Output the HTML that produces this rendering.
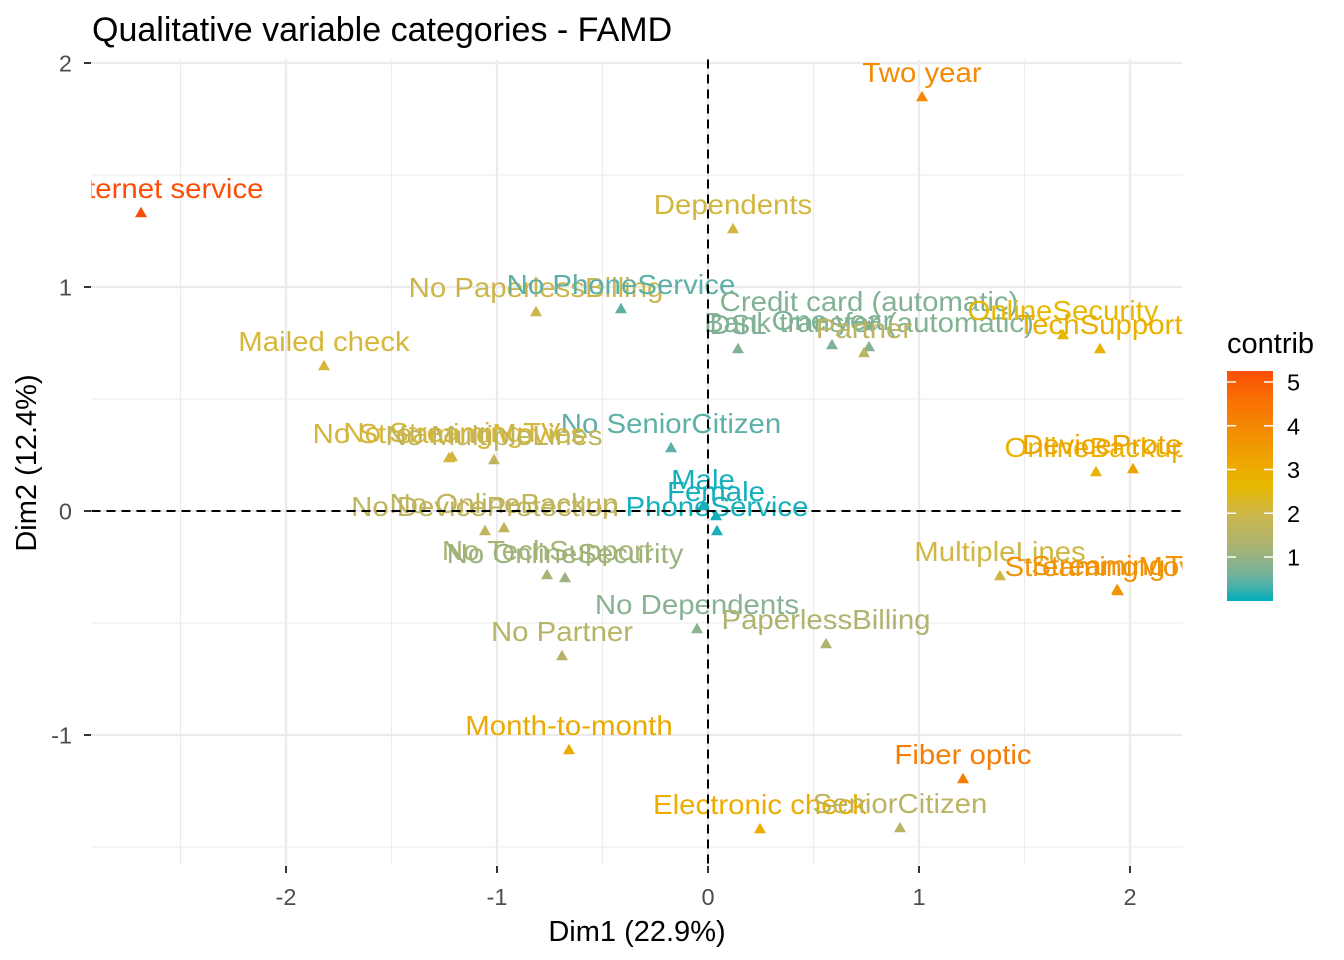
<!DOCTYPE html>
<html>
<head>
<meta charset="utf-8">
<style>
  html, body { margin: 0; padding: 0; background: #ffffff; }
  svg { display: block; }
  text { font-family: "Liberation Sans", Arial, sans-serif; }
  .lbl { font-size: 28px; }
</style>
</head>
<body>
<svg width="1344" height="960" viewBox="0 0 1344 960" xmlns="http://www.w3.org/2000/svg">
  <defs>
    <clipPath id="panel">
      <rect x="91.5" y="59.5" width="1091" height="806"/>
    </clipPath>
    <linearGradient id="grad" x1="0" y1="1" x2="0" y2="0">
      <stop offset="0" stop-color="#00AFBB"/>
      <stop offset="0.0625" stop-color="#48B0AA"/>
      <stop offset="0.125" stop-color="#7BB298"/>
      <stop offset="0.25" stop-color="#ADB36F"/>
      <stop offset="0.375" stop-color="#CBB64C"/>
      <stop offset="0.5" stop-color="#E7B800"/>
      <stop offset="0.625" stop-color="#EEA200"/>
      <stop offset="0.75" stop-color="#F48A02"/>
      <stop offset="0.875" stop-color="#F96F04"/>
      <stop offset="1" stop-color="#FC4E07"/>
    </linearGradient>
  </defs>

  <rect x="0" y="0" width="1344" height="960" fill="#ffffff"/>

  <!-- Title -->
  <text x="92" y="41" font-size="34" fill="#000000">Qualitative variable categories - FAMD</text>

  <!-- Grid: minor -->
  <g stroke="#EBEBEB" stroke-width="1.1" fill="none">
    <line x1="180.5" y1="59.5" x2="180.5" y2="865"/>
    <line x1="391.5" y1="59.5" x2="391.5" y2="865"/>
    <line x1="602.5" y1="59.5" x2="602.5" y2="865"/>
    <line x1="813.5" y1="59.5" x2="813.5" y2="865"/>
    <line x1="1024.5" y1="59.5" x2="1024.5" y2="865"/>
    <line x1="91.5" y1="175" x2="1182.5" y2="175"/>
    <line x1="91.5" y1="399" x2="1182.5" y2="399"/>
    <line x1="91.5" y1="623" x2="1182.5" y2="623"/>
    <line x1="91.5" y1="847" x2="1182.5" y2="847"/>
  </g>
  <!-- Grid: major -->
  <g stroke="#EBEBEB" stroke-width="2.2" fill="none">
    <line x1="286" y1="59.5" x2="286" y2="865"/>
    <line x1="497" y1="59.5" x2="497" y2="865"/>
    <line x1="708" y1="59.5" x2="708" y2="865"/>
    <line x1="919" y1="59.5" x2="919" y2="865"/>
    <line x1="1130" y1="59.5" x2="1130" y2="865"/>
    <line x1="91.5" y1="63" x2="1182.5" y2="63"/>
    <line x1="91.5" y1="287" x2="1182.5" y2="287"/>
    <line x1="91.5" y1="511" x2="1182.5" y2="511"/>
    <line x1="91.5" y1="735" x2="1182.5" y2="735"/>
  </g>

  <g clip-path="url(#panel)">
    <!-- Points (triangles) -->
    <g>
      <polygon points="141,206.8 147,217.2 135,217.2" fill="#FC4E07"/>
      <polygon points="922,90.8 928,101.2 916,101.2" fill="#F48A02"/>
      <polygon points="733,222.8 739,233.2 727,233.2" fill="#D3B640"/>
      <polygon points="536,305.8 542,316.2 530,316.2" fill="#CCB64B"/>
      <polygon points="621,302.8 627,313.2 615,313.2" fill="#5CB0A7"/>
      <polygon points="324,359.8 330,370.2 318,370.2" fill="#D6B73A"/>
      <polygon points="738,342.8 744,353.2 732,353.2" fill="#80B196"/>
      <polygon points="832,338.8 838,349.2 826,349.2" fill="#7EB297"/>
      <polygon points="869,319.8 875,330.2 863,330.2" fill="#83B293"/>
      <polygon points="869,340.8 875,351.2 863,351.2" fill="#83B293"/>
      <polygon points="864,346.8 870,357.2 858,357.2" fill="#BBB462"/>
      <polygon points="1063,328.8 1069,339.2 1057,339.2" fill="#E7B800"/>
      <polygon points="1100,342.8 1106,353.2 1094,353.2" fill="#EAB000"/>
      <polygon points="671,441.8 677,452.2 665,452.2" fill="#5CB0A7"/>
      <polygon points="452,450.8 458,461.2 446,461.2" fill="#D5B63C"/>
      <polygon points="449,451.8 455,462.2 443,462.2" fill="#D5B63C"/>
      <polygon points="494,453.8 500,464.2 488,464.2" fill="#BEB55E"/>
      <polygon points="1096,465.8 1102,476.2 1090,476.2" fill="#E9B300"/>
      <polygon points="1133,462.8 1139,473.2 1127,473.2" fill="#EEA200"/>
      <polygon points="703,499.8 709,510.2 697,510.2" fill="#14AFBA"/>
      <polygon points="716,509.8 722,520.2 710,520.2" fill="#14AFBA"/>
      <polygon points="717,524.8 723,535.2 711,535.2" fill="#17AFBA"/>
      <polygon points="485,524.8 491,535.2 479,535.2" fill="#C0B45C"/>
      <polygon points="504,521.8 510,532.2 498,532.2" fill="#C0B45C"/>
      <polygon points="547,568.8 553,579.2 541,579.2" fill="#A8B374"/>
      <polygon points="565,571.8 571,582.2 559,582.2" fill="#9EB37C"/>
      <polygon points="1000,569.8 1006,580.2 994,580.2" fill="#D0B645"/>
      <polygon points="1117,583.8 1123,594.2 1111,594.2" fill="#F29305"/>
      <polygon points="1118,584.8 1124,595.2 1112,595.2" fill="#F29305"/>
      <polygon points="697,622.8 703,633.2 691,633.2" fill="#88B291"/>
      <polygon points="826,637.8 832,648.2 820,648.2" fill="#AFB36F"/>
      <polygon points="562,649.8 568,660.2 556,660.2" fill="#B7B466"/>
      <polygon points="569,743.8 575,754.2 563,754.2" fill="#ECA900"/>
      <polygon points="963,772.8 969,783.2 957,783.2" fill="#F67D03"/>
      <polygon points="760,822.8 766,833.2 754,833.2" fill="#EBAD00"/>
      <polygon points="900,821.8 906,832.2 894,832.2" fill="#BBB462"/>
    </g>

    <!-- Labels -->
    <g class="lbl" text-anchor="middle">
      <text transform="translate(141,198) scale(1.05,1)" fill="#FC4E07">No internet service</text>
      <text transform="translate(922,82) scale(1.05,1)" fill="#F48A02">Two year</text>
      <text transform="translate(733,214) scale(1.05,1)" fill="#D3B640">Dependents</text>
      <text transform="translate(536,297) scale(1.05,1)" fill="#CCB64B">No PaperlessBilling</text>
      <text transform="translate(621,294) scale(1.05,1)" fill="#5CB0A7">No PhoneService</text>
      <text transform="translate(324,351) scale(1.05,1)" fill="#D6B73A">Mailed check</text>
      <text transform="translate(738,334) scale(1.05,1)" fill="#80B196">DSL</text>
      <text transform="translate(832,330) scale(1.05,1)" fill="#7EB297">One year</text>
      <text transform="translate(869,311) scale(1.05,1)" fill="#83B293">Credit card (automatic)</text>
      <text transform="translate(869,332) scale(1.05,1)" fill="#83B293">Bank transfer (automatic)</text>
      <text transform="translate(864,338) scale(1.05,1)" fill="#BBB462">Partner</text>
      <text transform="translate(1063,320) scale(1.05,1)" fill="#E7B800">OnlineSecurity</text>
      <text transform="translate(1100,334) scale(1.05,1)" fill="#EAB000">TechSupport</text>
      <text transform="translate(671,433) scale(1.05,1)" fill="#5CB0A7">No SeniorCitizen</text>
      <text transform="translate(452,442) scale(1.05,1)" fill="#D5B63C">No StreamingTV</text>
      <text transform="translate(449,443) scale(1.05,1)" fill="#D5B63C">No StreamingMovies</text>
      <text transform="translate(494,445) scale(1.05,1)" fill="#BEB55E">No MultipleLines</text>
      <text transform="translate(1096,457) scale(1.05,1)" fill="#E9B300">OnlineBackup</text>
      <text transform="translate(1133,454) scale(1.05,1)" fill="#EEA200">DeviceProtection</text>
      <text transform="translate(703,489) scale(1.05,1)" fill="#14AFBA">Male</text>
      <text transform="translate(716,501) scale(1.05,1)" fill="#14AFBA">Female</text>
      <text transform="translate(717,516) scale(1.05,1)" fill="#17AFBA">PhoneService</text>
      <text transform="translate(485,516) scale(1.05,1)" fill="#C0B45C">No DeviceProtection</text>
      <text transform="translate(504,513) scale(1.05,1)" fill="#C0B45C">No OnlineBackup</text>
      <text transform="translate(547,560) scale(1.05,1)" fill="#A8B374">No TechSupport</text>
      <text transform="translate(565,563) scale(1.05,1)" fill="#9EB37C">No OnlineSecurity</text>
      <text transform="translate(1000,561) scale(1.05,1)" fill="#D0B645">MultipleLines</text>
      <text transform="translate(1117,575) scale(1.05,1)" fill="#F29305">StreamingTV</text>
      <text transform="translate(1118,576) scale(1.05,1)" fill="#F29305">StreamingMovies</text>
      <text transform="translate(697,614) scale(1.05,1)" fill="#88B291">No Dependents</text>
      <text transform="translate(826,629) scale(1.05,1)" fill="#AFB36F">PaperlessBilling</text>
      <text transform="translate(562,641) scale(1.05,1)" fill="#B7B466">No Partner</text>
      <text transform="translate(569,735) scale(1.05,1)" fill="#ECA900">Month-to-month</text>
      <text transform="translate(963,764) scale(1.05,1)" fill="#F67D03">Fiber optic</text>
      <text transform="translate(760,814) scale(1.05,1)" fill="#EBAD00">Electronic check</text>
      <text transform="translate(900,813) scale(1.05,1)" fill="#BBB462">SeniorCitizen</text>
    </g>

    <!-- Dashed reference lines -->
    <line x1="91.5" y1="511" x2="1182.5" y2="511" stroke="#000000" stroke-width="2" stroke-dasharray="9 6"/>
    <line x1="708" y1="59.5" x2="708" y2="865" stroke="#000000" stroke-width="2" stroke-dasharray="9 6"/>
  </g>

  <!-- Axis ticks -->
  <g stroke="#333333" stroke-width="2">
    <line x1="84" y1="63" x2="91" y2="63"/>
    <line x1="84" y1="287" x2="91" y2="287"/>
    <line x1="84" y1="511" x2="91" y2="511"/>
    <line x1="84" y1="735" x2="91" y2="735"/>
    <line x1="286" y1="866" x2="286" y2="873"/>
    <line x1="497" y1="866" x2="497" y2="873"/>
    <line x1="708" y1="866" x2="708" y2="873"/>
    <line x1="919" y1="866" x2="919" y2="873"/>
    <line x1="1130" y1="866" x2="1130" y2="873"/>
  </g>

  <!-- Axis tick labels -->
  <g font-size="23.5" fill="#4D4D4D">
    <g text-anchor="end">
      <text x="72" y="71.5">2</text>
      <text x="72" y="295.5">1</text>
      <text x="72" y="519.5">0</text>
      <text x="72" y="743.5">-1</text>
    </g>
    <g text-anchor="middle">
      <text x="286" y="905">-2</text>
      <text x="497" y="905">-1</text>
      <text x="708" y="905">0</text>
      <text x="919" y="905">1</text>
      <text x="1130" y="905">2</text>
    </g>
  </g>

  <!-- Axis titles -->
  <text x="637" y="941" font-size="29" text-anchor="middle" fill="#000000">Dim1 (22.9%)</text>
  <text transform="translate(36,463) rotate(-90)" font-size="29" text-anchor="middle" fill="#000000">Dim2 (12.4%)</text>

  <!-- Legend -->
  <text x="1227" y="353" font-size="29" fill="#000000">contrib</text>
  <rect x="1227" y="371" width="46" height="230" fill="url(#grad)"/>
  <g stroke="#ffffff" stroke-width="1.5">
    <line x1="1227" y1="557" x2="1236" y2="557"/>
    <line x1="1264" y1="557" x2="1273" y2="557"/>
    <line x1="1227" y1="513.25" x2="1236" y2="513.25"/>
    <line x1="1264" y1="513.25" x2="1273" y2="513.25"/>
    <line x1="1227" y1="469.5" x2="1236" y2="469.5"/>
    <line x1="1264" y1="469.5" x2="1273" y2="469.5"/>
    <line x1="1227" y1="425.75" x2="1236" y2="425.75"/>
    <line x1="1264" y1="425.75" x2="1273" y2="425.75"/>
    <line x1="1227" y1="382" x2="1236" y2="382"/>
    <line x1="1264" y1="382" x2="1273" y2="382"/>
  </g>
  <g font-size="23.5" fill="#000000">
    <text x="1287" y="565.5">1</text>
    <text x="1287" y="521.75">2</text>
    <text x="1287" y="478">3</text>
    <text x="1287" y="434.25">4</text>
    <text x="1287" y="390.5">5</text>
  </g>
</svg>
</body>
</html>
